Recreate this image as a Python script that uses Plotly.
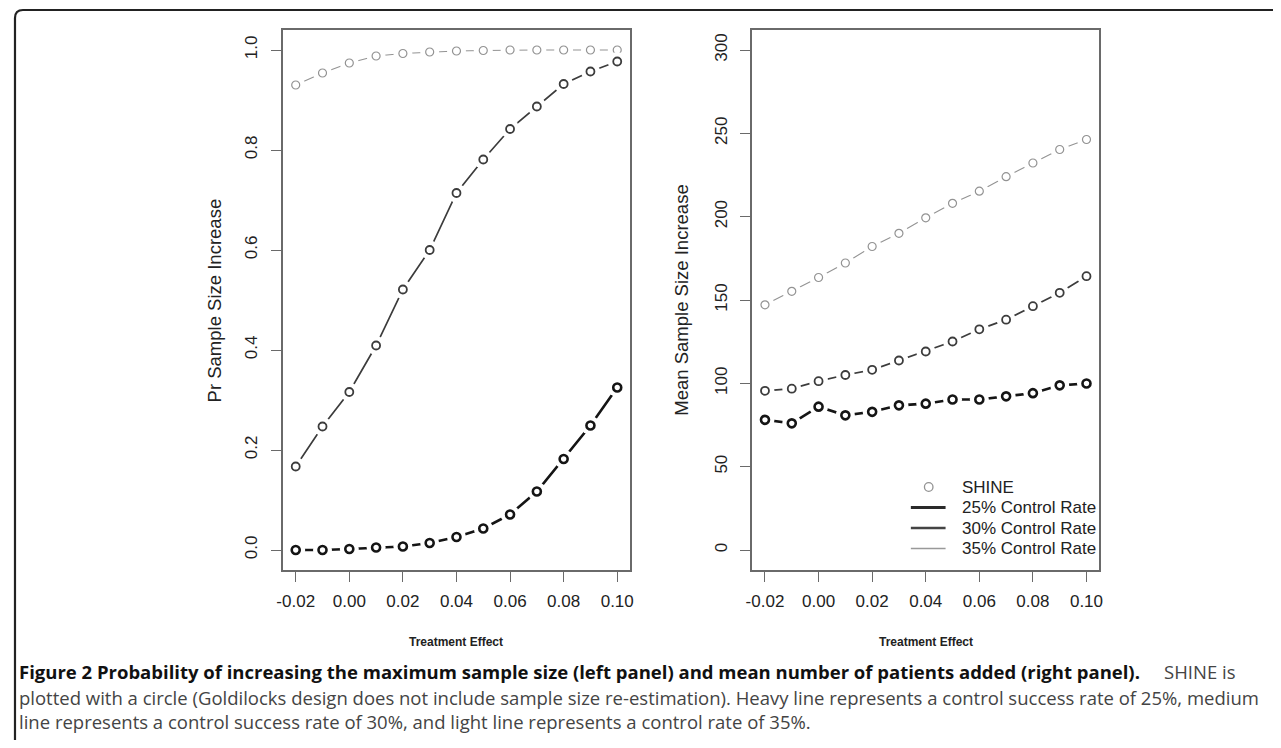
import plotly.graph_objects as go

# ---------------- data ----------------
effect = [-0.02, -0.01, 0.00, 0.01, 0.02, 0.03, 0.04, 0.05, 0.06, 0.07, 0.08, 0.09, 0.10]

# left panel: probability of sample size increase
pr_25 = [0.000, 0.000, 0.002, 0.005, 0.007, 0.014, 0.026, 0.043, 0.071, 0.117, 0.182, 0.249, 0.325]
pr_30 = [0.167, 0.247, 0.316, 0.409, 0.521, 0.600, 0.714, 0.781, 0.842, 0.887, 0.932, 0.957, 0.977]
pr_35 = [0.930, 0.954, 0.974, 0.988, 0.993, 0.996, 0.998, 0.999, 1.000, 1.000, 1.000, 1.000, 1.000]

# right panel: mean sample size increase
mean_25 = [78.1, 76.0, 86.0, 80.8, 82.9, 86.8, 87.8, 90.3, 90.3, 92.2, 94.1, 98.8, 99.9]
mean_30 = [95.5, 96.8, 101.3, 105.0, 108.1, 113.7, 119.1, 125.1, 132.4, 138.2, 146.3, 154.3, 164.3]
mean_35 = [147.1, 155.2, 163.5, 172.2, 182.1, 190.0, 199.3, 208.0, 215.3, 224.0, 232.2, 240.3, 246.3]

x_ticks = [-0.02, 0.00, 0.02, 0.04, 0.06, 0.08, 0.10]
x_tick_text = ["-0.02", "0.00", "0.02", "0.04", "0.06", "0.08", "0.10"]
left_y_ticks = [0.0, 0.2, 0.4, 0.6, 0.8, 1.0]
left_y_text = ["0.0", "0.2", "0.4", "0.6", "0.8", "1.0"]
right_y_ticks = [0, 50, 100, 150, 200, 250, 300]
right_y_text = ["0", "50", "100", "150", "200", "250", "300"]

legend_labels = ["SHINE", "25% Control Rate", "30% Control Rate", "35% Control Rate"]

x_title = "Treatment Effect"
left_y_title = "Pr Sample Size Increase"
right_y_title = "Mean Sample Size Increase"

caption_bold = "Figure 2 Probability of increasing the maximum sample size (left panel) and mean number of patients added (right panel)."
caption_tail = "SHINE is"
caption_lines = [
    "plotted with a circle (Goldilocks design does not include sample size re-estimation). Heavy line represents a control success rate of 25%, medium",
    "line represents a control success rate of 30%, and light line represents a control rate of 35%.",
]

# ---------------- styles ----------------
OFF = 8                  # page body margin
FW, FH = 1265, 732       # figure size (fits window with body margin)
FONT = "Liberation Sans, Arial, sans-serif"
styles = {
    "25": dict(color="#151515", lw=2.6, mw=2.6, size=8, leg_w=3.2, leg_c="#2a2a2a"),
    "30": dict(color="#3c3c3c", lw=1.7, mw=1.8, size=8, leg_w=2.4, leg_c="#444444"),
    "35": dict(color="#939393", lw=1.1, mw=1.2, size=8, leg_w=1.3, leg_c="#999999"),
}


def fx(p):
    return (p - OFF) / FW


def fy(p):
    return 1 - (p - OFF) / FH


fig = go.Figure()


def add_series(x, y, st, xa, ya):
    fig.add_trace(go.Scatter(x=x, y=y, mode="lines", xaxis=xa, yaxis=ya,
                             line=dict(color=st["color"], width=st["lw"]),
                             showlegend=False, hoverinfo="skip"))
    fig.add_trace(go.Scatter(x=x, y=y, mode="markers", xaxis=xa, yaxis=ya,
                             marker=dict(symbol="circle", size=19, color="white",
                                         line=dict(width=0)),
                             showlegend=False, hoverinfo="skip"))
    fig.add_trace(go.Scatter(x=x, y=y, mode="markers", xaxis=xa, yaxis=ya,
                             marker=dict(symbol="circle", size=st["size"], color="white",
                                         line=dict(width=st["mw"], color=st["color"])),
                             showlegend=False))


for series, key in [(pr_35, "35"), (pr_30, "30"), (pr_25, "25")]:
    add_series(effect, series, styles[key], "x", "y")
for series, key in [(mean_35, "35"), (mean_30, "30"), (mean_25, "25")]:
    add_series(effect, series, styles[key], "x2", "y2")

# ---------------- axes ----------------
xdom_l = [fx(279), fx(629)]
xdom_r = [fx(752), fx(1102)]
ydom = [fy(570), fy(30)]

axis_common = dict(showline=True, linecolor="#6a6a6a", linewidth=1.5, mirror=True,
                   ticks="outside", ticklen=10, tickwidth=1.2, tickcolor="#6a6a6a",
                   showgrid=False, zeroline=False,
                   tickfont=dict(family=FONT, size=17, color="#222222"))

xr = [-0.0248, 0.1048]
fig.update_layout(
    xaxis=dict(domain=xdom_l, range=xr, tickvals=x_ticks, ticktext=x_tick_text, anchor="y",
               ticklabelstandoff=5, **axis_common),
    yaxis=dict(domain=ydom, range=[-0.04, 1.04], tickvals=left_y_ticks, ticktext=left_y_text,
               tickangle=-90, anchor="x", ticklabelstandoff=7, **axis_common),
    xaxis2=dict(domain=xdom_r, range=xr, tickvals=x_ticks, ticktext=x_tick_text, anchor="y2",
                ticklabelstandoff=5, **axis_common),
    yaxis2=dict(domain=ydom, range=[-12, 312], tickvals=right_y_ticks, ticktext=right_y_text,
                tickangle=-90, anchor="x2", ticklabelstandoff=7, **axis_common),
)

annotations = []
shapes = []
for cx in (454, 927):
    annotations.append(dict(x=fx(cx), y=fy(642), xref="paper", yref="paper", text="<b>" + x_title + "</b>",
                            showarrow=False, font=dict(family=FONT, size=12, color="#222222"),
                            xanchor="center", yanchor="middle"))
annotations.append(dict(x=fx(210), y=fy(300), xref="paper", yref="paper", text=left_y_title,
                        textangle=-90, showarrow=False,
                        font=dict(family=FONT, size=18.5, color="#222222"),
                        xanchor="center", yanchor="middle"))
annotations.append(dict(x=fx(680), y=fy(300), xref="paper", yref="paper", text=right_y_title,
                        textangle=-90, showarrow=False,
                        font=dict(family=FONT, size=18.5, color="#222222"),
                        xanchor="center", yanchor="middle"))

# ---------------- legend (drawn in the right panel) ----------------
leg_rows = [487, 507.5, 528, 548.5]
leg_text_x = 962
leg_line = (912, 947)
for lab, yy in zip(legend_labels, leg_rows):
    annotations.append(dict(x=fx(leg_text_x), y=fy(yy), xref="paper", yref="paper", text=lab,
                            showarrow=False, xanchor="left", yanchor="middle",
                            font=dict(family=FONT, size=17, color="#222222")))
rad = 4.3
shapes.append(dict(type="circle", xref="paper", yref="paper",
                   x0=fx(930 - rad), x1=fx(930 + rad), y0=fy(leg_rows[0] + rad), y1=fy(leg_rows[0] - rad),
                   line=dict(color="#939393", width=1.3), fillcolor="white"))
for key, yy in zip(["25", "30", "35"], leg_rows[1:]):
    st = styles[key]
    shapes.append(dict(type="line", xref="paper", yref="paper",
                       x0=fx(leg_line[0]), x1=fx(leg_line[1]), y0=fy(yy), y1=fy(yy),
                       line=dict(color=st["leg_c"], width=st["leg_w"])))

# ---------------- caption ----------------
CAP_FONT = "Open Sans, Noto Sans, sans-serif"
CAP_SIZE = 18.5
CAP_X = 11
cap_y = [671, 697, 721]
annotations.append(dict(x=fx(CAP_X), y=fy(cap_y[0]), xref="paper", yref="paper",
                        text="<b>" + caption_bold + "</b>",
                        showarrow=False, align="left",
                        font=dict(family=CAP_FONT, size=CAP_SIZE, color="#111111"),
                        xanchor="left", yanchor="middle"))
annotations.append(dict(x=fx(1165), y=fy(cap_y[0]), xref="paper", yref="paper",
                        text=caption_tail, showarrow=False,
                        font=dict(family=CAP_FONT, size=CAP_SIZE, color="#444444"),
                        xanchor="left", yanchor="middle"))
for t, yy in zip(caption_lines, cap_y[1:]):
    annotations.append(dict(x=fx(CAP_X), y=fy(yy), xref="paper", yref="paper", text=t,
                            showarrow=False, align="left",
                            font=dict(family=CAP_FONT, size=CAP_SIZE, color="#444444"),
                            xanchor="left", yanchor="middle"))

# frame with rounded top-left corner
r = 8
path = (f"M {fx(9)},{fy(800)} L {fx(9)},{fy(10 + r)} "
        f"Q {fx(9)},{fy(10)} {fx(9 + r)},{fy(10)} L {fx(1400)},{fy(10)}")
shapes.append(dict(type="path", xref="paper", yref="paper", path=path,
                   line=dict(color="#222222", width=2.2)))

fig.update_layout(
    width=FW, height=FH,
    margin=dict(l=0, r=0, t=0, b=0),
    paper_bgcolor="white", plot_bgcolor="white",
    annotations=annotations, shapes=shapes,
    showlegend=False,
)

fig.write_html("out.html")
